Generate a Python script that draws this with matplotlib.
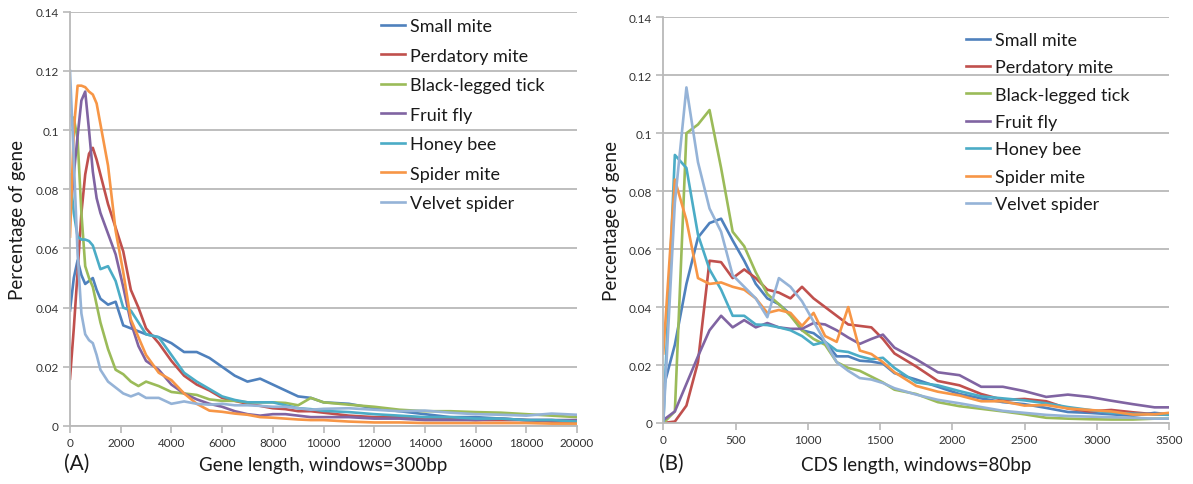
import matplotlib
matplotlib.use("Agg")
import matplotlib.pyplot as plt

plt.rcParams['font.family'] = ['Lato', 'DejaVu Sans']

species = ["Small mite", "Perdatory mite", "Black-legged tick", "Fruit fly",
           "Honey bee", "Spider mite", "Velvet spider"]
colors = ["#4F81BD", "#C0504D", "#9BBB59", "#8064A2", "#4BACC6", "#F79646", "#95B3D7"]

# ---------------- Panel A: gene length (windows = 300bp) ----------------
gene_x = [0, 150, 300, 450, 600, 750, 900, 1050, 1200, 1500, 1800, 2100, 2400, 2700, 3000,
          3500, 4000, 4500, 5000, 5500, 6000, 6500, 7000, 7500, 8000, 8500, 9000, 9500, 10000,
          11000, 12000, 13000, 14000, 15000, 16000, 17000, 18000, 19000, 20000]

gene_small_mite = [0.039, 0.050, 0.056, 0.051, 0.048, 0.049, 0.050, 0.046, 0.043, 0.041, 0.042,
                   0.034, 0.033, 0.032, 0.031, 0.030, 0.028, 0.025, 0.025, 0.023, 0.020, 0.017,
                   0.015, 0.016, 0.014, 0.012, 0.010, 0.0095, 0.008, 0.0075, 0.006, 0.005, 0.004,
                   0.003, 0.003, 0.0025, 0.002, 0.002, 0.0015]
gene_perdatory_mite = [0.016, 0.033, 0.052, 0.072, 0.085, 0.092, 0.094, 0.090, 0.085, 0.075, 0.067,
                       0.059, 0.046, 0.040, 0.033, 0.028, 0.022, 0.017, 0.014, 0.012, 0.0095, 0.0085,
                       0.0075, 0.0068, 0.006, 0.0057, 0.005, 0.005, 0.0045, 0.0035, 0.003, 0.003,
                       0.0025, 0.0025, 0.002, 0.002, 0.002, 0.0015, 0.0015]
gene_tick = [0.105, 0.104, 0.097, 0.072, 0.054, 0.050, 0.047, 0.041, 0.035, 0.026, 0.019, 0.0175,
             0.015, 0.0135, 0.015, 0.0135, 0.0115, 0.011, 0.0105, 0.009, 0.0085, 0.0085, 0.008,
             0.008, 0.008, 0.0078, 0.007, 0.0095, 0.008, 0.0072, 0.0065, 0.0055, 0.005, 0.005,
             0.0047, 0.0045, 0.004, 0.0035, 0.003]
gene_fruit_fly = [0.071, 0.085, 0.098, 0.110, 0.113, 0.100, 0.086, 0.077, 0.072, 0.065, 0.058,
                  0.047, 0.035, 0.027, 0.022, 0.019, 0.014, 0.011, 0.009, 0.0075, 0.0065, 0.005,
                  0.004, 0.0035, 0.004, 0.004, 0.0035, 0.003, 0.003, 0.003, 0.0025, 0.0025, 0.002,
                  0.002, 0.002, 0.0025, 0.002, 0.002, 0.002]
gene_honey_bee = [0.085, 0.072, 0.064, 0.063, 0.063, 0.0625, 0.061, 0.057, 0.053, 0.054, 0.049,
                  0.040, 0.039, 0.035, 0.031, 0.030, 0.024, 0.018, 0.015, 0.0125, 0.010, 0.0088,
                  0.008, 0.008, 0.008, 0.007, 0.006, 0.0057, 0.0051, 0.0047, 0.004, 0.0035, 0.003,
                  0.003, 0.0025, 0.0025, 0.002, 0.002, 0.0015]
gene_spider_mite = [0.064, 0.100, 0.115, 0.115, 0.1145, 0.113, 0.112, 0.109, 0.102, 0.088, 0.066,
                    0.052, 0.036, 0.030, 0.024, 0.018, 0.0155, 0.011, 0.0075, 0.0052, 0.0048,
                    0.0042, 0.0038, 0.003, 0.0028, 0.0025, 0.0022, 0.002, 0.002, 0.0015, 0.0012,
                    0.0012, 0.001, 0.001, 0.001, 0.001, 0.001, 0.0008, 0.0008]
gene_velvet_spider = [0.120, 0.090, 0.058, 0.038, 0.031, 0.029, 0.028, 0.024, 0.019, 0.015, 0.013,
                      0.011, 0.010, 0.011, 0.0095, 0.0095, 0.0075, 0.0083, 0.0075, 0.0072, 0.0075,
                      0.007, 0.007, 0.0068, 0.0065, 0.0065, 0.006, 0.0055, 0.0058, 0.006, 0.0055,
                      0.005, 0.0052, 0.0045, 0.004, 0.0038, 0.0035, 0.0042, 0.0038]

# ---------------- Panel B: CDS length (windows = 80bp) ----------------
cds_x = [0, 80, 160, 240, 320, 400, 480, 560, 640, 720, 800, 880, 960, 1040, 1120, 1200, 1280,
         1360, 1440, 1520, 1600, 1750, 1900, 2050, 2200, 2350, 2500, 2650, 2800, 2950, 3100,
         3250, 3400, 3500]

cds_small_mite = [0.012, 0.027, 0.048, 0.064, 0.069, 0.0705, 0.063, 0.056, 0.048, 0.043, 0.041,
                  0.0375, 0.032, 0.031, 0.028, 0.023, 0.023, 0.0215, 0.0212, 0.0205, 0.0172,
                  0.015, 0.0125, 0.010, 0.0085, 0.0072, 0.0065, 0.0052, 0.0038, 0.0035, 0.003,
                  0.0025, 0.0035, 0.003]
cds_perdatory_mite = [0.0, 0.0005, 0.006, 0.021, 0.056, 0.0555, 0.050, 0.053, 0.050, 0.046, 0.045,
                      0.043, 0.047, 0.043, 0.040, 0.037, 0.034, 0.0335, 0.033, 0.029, 0.024,
                      0.0195, 0.0145, 0.013, 0.010, 0.008, 0.0083, 0.0075, 0.005, 0.004, 0.0045,
                      0.0037, 0.003, 0.003]
cds_tick = [0.0, 0.004, 0.100, 0.103, 0.108, 0.088, 0.066, 0.061, 0.052, 0.0445, 0.041, 0.037,
            0.032, 0.029, 0.027, 0.021, 0.019, 0.018, 0.016, 0.014, 0.0115, 0.010, 0.0072,
            0.0058, 0.0049, 0.004, 0.003, 0.0018, 0.0015, 0.0013, 0.0012, 0.0012, 0.0015, 0.0015]
cds_fruit_fly = [0.001, 0.004, 0.0135, 0.023, 0.032, 0.037, 0.033, 0.0355, 0.033, 0.0345, 0.033,
                 0.0325, 0.0325, 0.0345, 0.034, 0.032, 0.0295, 0.0273, 0.029, 0.0305, 0.026,
                 0.022, 0.0175, 0.0165, 0.0125, 0.0125, 0.011, 0.009, 0.0098, 0.009, 0.0077,
                 0.0065, 0.0054, 0.0054]
cds_honey_bee = [0.0, 0.0925, 0.088, 0.065, 0.053, 0.046, 0.037, 0.037, 0.034, 0.0338, 0.033,
                 0.032, 0.030, 0.027, 0.028, 0.025, 0.0245, 0.023, 0.022, 0.0225, 0.019, 0.014,
                 0.013, 0.011, 0.0092, 0.0085, 0.0078, 0.0068, 0.0055, 0.0045, 0.0035, 0.0032,
                 0.003, 0.0028]
cds_spider_mite = [0.024, 0.084, 0.070, 0.050, 0.048, 0.0485, 0.047, 0.046, 0.043, 0.038, 0.039,
                   0.038, 0.0335, 0.038, 0.030, 0.028, 0.040, 0.025, 0.0238, 0.021, 0.0175,
                   0.0128, 0.0108, 0.0095, 0.0075, 0.0075, 0.006, 0.0062, 0.005, 0.0045, 0.004,
                   0.0029, 0.003, 0.0035]
cds_velvet_spider = [0.0, 0.076, 0.1158, 0.090, 0.074, 0.066, 0.051, 0.047, 0.043, 0.0365, 0.050,
                     0.047, 0.042, 0.035, 0.028, 0.021, 0.018, 0.0155, 0.015, 0.0138, 0.012,
                     0.0098, 0.008, 0.0068, 0.0055, 0.0042, 0.0035, 0.0028, 0.0024, 0.0022,
                     0.002, 0.0018, 0.0015, 0.0015]

gene_series = [gene_small_mite, gene_perdatory_mite, gene_tick, gene_fruit_fly,
               gene_honey_bee, gene_spider_mite, gene_velvet_spider]
cds_series = [cds_small_mite, cds_perdatory_mite, cds_tick, cds_fruit_fly,
              cds_honey_bee, cds_spider_mite, cds_velvet_spider]

gene_xticks = list(range(0, 20001, 2000))
cds_xticks = list(range(0, 3501, 500))
y_ticks = [0, 0.02, 0.04, 0.06, 0.08, 0.1, 0.12, 0.14]
y_ticklabels = ["0", "0.02", "0.04", "0.06", "0.08", "0.1", "0.12", "0.14"]

W, H = 1193, 485
fig = plt.figure(figsize=(W / 100, H / 100), dpi=100)
axA = fig.add_axes([70 / W, 1 - 427 / H, 507 / W, (427 - 12.7) / H])
axB = fig.add_axes([663.3 / W, 1 - 424 / H, (1169 - 663.3) / W, (424 - 18.3) / H])

GRID = "#b9b9b9"
TXT = "#333333"


def style(ax, xmax, xticks):
    ax.set_xlim(0, xmax)
    ax.set_ylim(0, 0.14)
    ax.set_xticks(xticks)
    ax.set_xticklabels([str(t) for t in xticks])
    ax.set_yticks(y_ticks)
    ax.set_yticklabels(y_ticklabels)
    ax.grid(axis='y', color=GRID, linewidth=1.3)
    ax.set_axisbelow(True)
    for s in ("top", "right"):
        ax.spines[s].set_visible(False)
    for s in ("left", "bottom"):
        ax.spines[s].set_color(GRID)
        ax.spines[s].set_linewidth(1.3)
    ax.tick_params(axis='both', direction='out', length=5, width=1.2, color=GRID,
                   labelsize=8.5, labelcolor=TXT, pad=3)


for ax, xs, series, xmax, xt in ((axA, gene_x, gene_series, 20000, gene_xticks),
                                  (axB, cds_x, cds_series, 3500, cds_xticks)):
    style(ax, xmax, xt)
    for name, ys, c in zip(species, series, colors):
        ax.plot(xs, ys, color=c, linewidth=1.9, label=name, solid_joinstyle='round')

legA = axA.legend(loc='upper left', bbox_to_anchor=((381 - 70) / 507, (427 - 19) / (427 - 12.7)),
                  frameon=False, fontsize=13, handlelength=1.35, handletextpad=0.25,
                  labelspacing=0.75, borderaxespad=0, borderpad=0)
legB = axB.legend(loc='upper left', bbox_to_anchor=((966 - 663.3) / 505.7, (424 - 33) / (424 - 18.3)),
                  frameon=False, fontsize=13, handlelength=1.35, handletextpad=0.25,
                  labelspacing=0.63, borderaxespad=0, borderpad=0)
for leg in (legA, legB):
    for t in leg.get_texts():
        t.set_color("#1a1a1a")

fig.text(18 / W, 1 - 220 / H, "Percentage of gene", rotation=90, ha='center', va='center',
         fontsize=13.5, color="#1a1a1a")
fig.text(612 / W, 1 - 221 / H, "Percentage of gene", rotation=90, ha='center', va='center',
         fontsize=13.5, color="#1a1a1a")
fig.text(323.5 / W, 1 - 466 / H, "Gene length, windows=300bp", ha='center', va='center',
         fontsize=13.5, color="#1a1a1a")
fig.text(916 / W, 1 - 466 / H, "CDS length, windows=80bp", ha='center', va='center',
         fontsize=13.5, color="#1a1a1a")
fig.text(64 / W, 1 - 464 / H, "(A)", ha='left', va='center', fontsize=15, color="#1a1a1a")
fig.text(659 / W, 1 - 464 / H, "(B)", ha='left', va='center', fontsize=15, color="#1a1a1a")

fig.savefig("out.png", dpi=100)
